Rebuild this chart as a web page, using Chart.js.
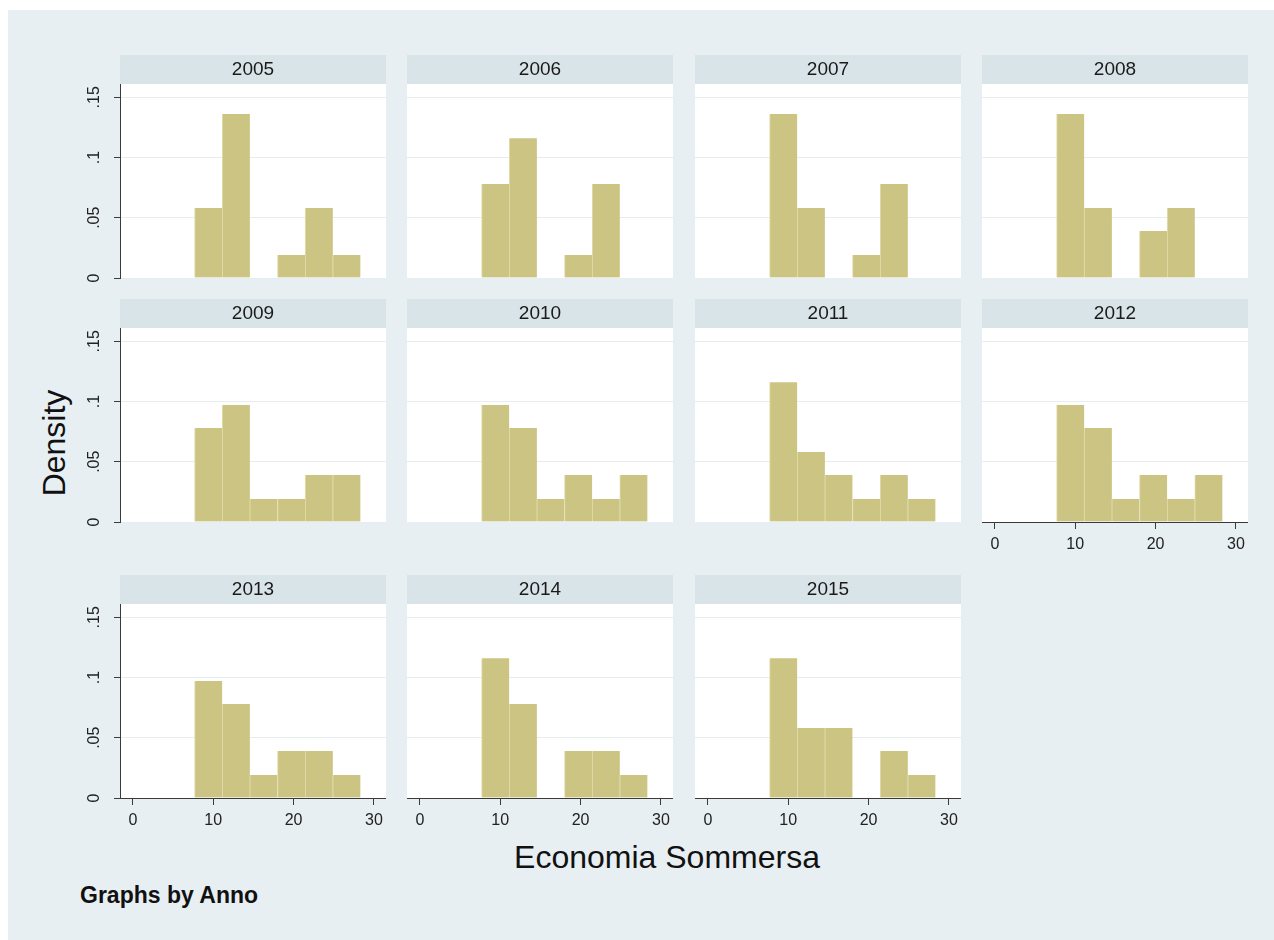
<!DOCTYPE html>
<html>
<head>
<meta charset="utf-8">
<script src="https://cdn.jsdelivr.net/npm/chart.js@4.4.1/dist/chart.umd.min.js"></script>
<style>
  html, body { margin: 0; padding: 0; background: #ffffff; }
  body { width: 1274px; height: 940px; position: relative; overflow: hidden;
         font-family: "Liberation Sans", Arial, sans-serif; }
  #graph { position: absolute; left: 8px; top: 10px; right: 0; bottom: 0; background: #e8eff2; }
  canvas.panel { position: absolute; }
  .title { position: absolute; color: #111; white-space: nowrap; line-height: normal; }
  #ytitle { left: 54px; top: 443px; font-size: 32px; transform: translate(-50%, -50%) rotate(-90deg); }
  #xtitle { left: 667px; top: 839px; font-size: 32px; transform: translateX(-50%); }
  #note { left: 80px; top: 882px; font-size: 23px; font-weight: bold; }
</style>
</head>
<body>
<div id="graph"></div>
<div class="title" id="ytitle">Density</div>
<div class="title" id="xtitle">Economia Sommersa</div>
<div class="title" id="note">Graphs by Anno</div>

<script>
// Histogram of the shadow economy share, one panel per year (density scale)
const years = ['2005', '2006', '2007', '2008', '2009', '2010', '2011', '2012', '2013', '2014', '2015'];

// common bin edges for every panel
const binEdges = [7.68, 11.12, 14.56, 18.00, 21.44, 24.88, 28.32];

// density of each bin, per year
const dens2005 = [0.058, 0.136, 0.000, 0.019, 0.058, 0.019];
const dens2006 = [0.078, 0.116, 0.000, 0.019, 0.078, 0.000];
const dens2007 = [0.136, 0.058, 0.000, 0.019, 0.078, 0.000];
const dens2008 = [0.136, 0.058, 0.000, 0.039, 0.058, 0.000];
const dens2009 = [0.078, 0.097, 0.019, 0.019, 0.039, 0.039];
const dens2010 = [0.097, 0.078, 0.019, 0.039, 0.019, 0.039];
const dens2011 = [0.116, 0.058, 0.039, 0.019, 0.039, 0.019];
const dens2012 = [0.097, 0.078, 0.019, 0.039, 0.019, 0.039];
const dens2013 = [0.097, 0.078, 0.019, 0.039, 0.039, 0.019];
const dens2014 = [0.116, 0.078, 0.000, 0.039, 0.039, 0.019];
const dens2015 = [0.116, 0.058, 0.058, 0.000, 0.039, 0.019];

const densities = [dens2005, dens2006, dens2007, dens2008, dens2009, dens2010,
                   dens2011, dens2012, dens2013, dens2014, dens2015];

// axis ticks
const xTickValues = [0, 10, 20, 30];
const yTickValues = [0, 0.05, 0.1, 0.15];
const yTickLabels = ['0', '.05', '.1', '.15'];

// panel grid geometry
const colLeft = [120, 407, 695, 982];
const rowTop = [55, 299, 575];
const plotW = 266, plotH = 194, stripH = 29;
const yAxisW = 50, xAxisH = 42;
const xMin = -1.6, xMax = 31.5, yMax = 0.161;

const FONT = '"Liberation Sans", Arial, sans-serif';
const AXIS = '#3a3a3a';

// light strip behind the year label and white plot region
const panelBg = {
  id: 'panelBg',
  beforeDraw(chart) {
    const a = chart.chartArea, ctx = chart.ctx;
    ctx.save();
    ctx.fillStyle = '#d9e4e9';
    ctx.fillRect(a.left, 0, a.right - a.left, a.top);
    ctx.fillStyle = '#ffffff';
    ctx.fillRect(a.left, a.top, a.right - a.left, a.bottom - a.top);
    ctx.restore();
  }
};

// vertical y tick labels on the left-hand panels
const yLabels = {
  id: 'yLabels',
  afterDraw(chart, args, opts) {
    if (!opts.show) return;
    const ys = chart.scales.y, ctx = chart.ctx;
    ctx.save();
    ctx.fillStyle = '#222';
    ctx.font = '16px ' + FONT;
    ctx.textAlign = 'center';
    ctx.textBaseline = 'middle';
    yTickValues.forEach((v, k) => {
      ctx.save();
      ctx.translate(chart.chartArea.left - 25, ys.getPixelForValue(v));
      ctx.rotate(-Math.PI / 2);
      ctx.fillText(yTickLabels[k], 0, 0);
      ctx.restore();
    });
    ctx.restore();
  }
};

years.forEach((year, i) => {
  const row = Math.floor(i / 4), col = i % 4;
  const hasY = col === 0;
  const hasX = i >= 7;
  const L = hasY ? yAxisW : 0;
  const B = hasX ? xAxisH : 0;
  const padB = (hasY && !hasX) ? 12 : 0;

  const cv = document.createElement('canvas');
  cv.className = 'panel';
  cv.width = L + plotW;
  cv.height = stripH + plotH + B + padB;
  cv.style.left = (colLeft[col] - L) + 'px';
  cv.style.top = rowTop[row] + 'px';
  document.body.appendChild(cv);

  const points = densities[i].map((v, k) => ({ x: (binEdges[k] + binEdges[k + 1]) / 2, y: v }));

  new Chart(cv, {
    type: 'bar',
    data: {
      datasets: [{
        data: points,
        backgroundColor: '#cbc482',
        borderColor: '#e2dcaa',
        borderWidth: { left: 1, right: 0, top: 0, bottom: 0 },
        borderSkipped: false,
        barPercentage: 1,
        categoryPercentage: 1
      }]
    },
    options: {
      responsive: false,
      animation: false,
      devicePixelRatio: 1,
      layout: { padding: { left: 0, right: 0, top: 0, bottom: padB }, autoPadding: false },
      plugins: {
        legend: { display: false },
        tooltip: { enabled: false },
        title: {
          display: true, text: year, fullSize: false, color: '#1a1a1a',
          font: { family: FONT, size: 19, weight: 'normal', lineHeight: 1.2 },
          padding: { top: 3.5, bottom: 2.7 }
        },
        yLabels: { show: hasY }
      },
      scales: {
        x: {
          type: 'linear', min: xMin, max: xMax, display: hasX, offset: false,
          afterBuildTicks: s => { s.ticks = xTickValues.map(v => ({ value: v })); },
          afterFit: s => { s.height = B; s.paddingLeft = 0; s.paddingRight = 0; },
          grid: { offset: false, drawOnChartArea: false, drawTicks: true, tickLength: 7, tickColor: AXIS },
          border: { display: true, color: AXIS, width: 1 },
          ticks: { color: '#222', font: { family: FONT, size: 16 }, padding: 6, maxRotation: 0, autoSkip: false }
        },
        y: {
          type: 'linear', min: 0, max: yMax, display: true,
          afterBuildTicks: s => { s.ticks = yTickValues.map(v => ({ value: v })); },
          afterFit: s => { s.width = L; s.paddingTop = 0; s.paddingBottom = 0; },
          grid: { color: '#e5edf0', lineWidth: 1, drawTicks: hasY, tickLength: 6, tickColor: AXIS },
          border: { display: hasY, color: AXIS, width: 1 },
          ticks: { display: false }
        }
      }
    },
    plugins: [panelBg, yLabels]
  });
});
</script>
</body>
</html>
